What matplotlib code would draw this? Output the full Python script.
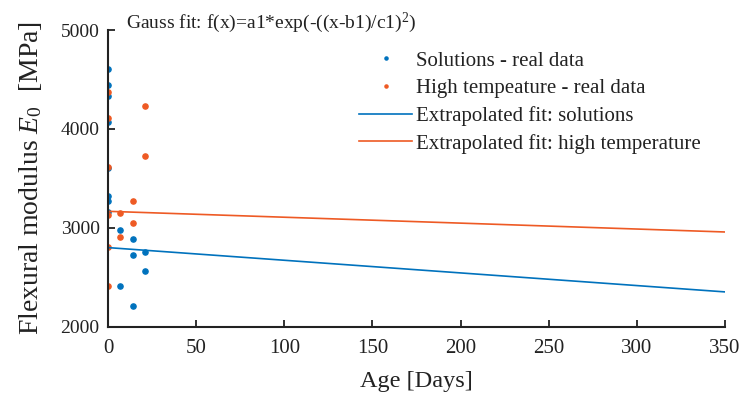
import matplotlib
matplotlib.use("Agg")
import matplotlib.pyplot as plt

plt.rcParams["font.family"] = "Liberation Serif"
plt.rcParams["mathtext.fontset"] = "custom"
plt.rcParams["mathtext.rm"] = "Liberation Serif"
plt.rcParams["mathtext.it"] = "Liberation Serif:italic"

# real data (age in days, modulus in MPa)
sol_days = [0, 0, 0, 0, 0, 0, 0, 0, 7, 7, 14, 14, 14, 21, 21]
sol_e0 = [4606, 4444, 4336, 4067, 3602, 3325, 3268, 3157, 2978, 2408, 2887, 2725, 2209, 2758, 2566]

ht_days = [0, 0, 0, 0, 0, 0, 7, 7, 14, 14, 21, 21]
ht_e0 = [4376, 4107, 3618, 3130, 2809, 2415, 3146, 2910, 3268, 3049, 4235, 3726]

# extrapolated fits
fit_days = [0, 350]
fit_sol = [2800, 2352]
fit_ht = [3167, 2958]

blue = "#0072BD"
orange = "#EE5A24"
ink = "#222222"

fig = plt.figure(figsize=(7.42, 3.96), dpi=100)
ax = fig.add_axes([0.1456, 0.175, 0.8314, 0.749])

ax.plot(sol_days, sol_e0, ".", color=blue, markersize=7.5, label="Solutions - real data")
ax.plot(ht_days, ht_e0, ".", color=orange, markersize=7.5, label="High tempeature - real data")
ax.plot(fit_days, fit_sol, "-", color=blue, linewidth=1.2, label="Extrapolated fit: solutions")
ax.plot(fit_days, fit_ht, "-", color=orange, linewidth=1.2, label="Extrapolated fit: high temperature")

ax.set_xlim(0, 350)
ax.set_ylim(2000, 5000)
ax.set_xticks(range(0, 351, 50))
ax.set_yticks([2000, 3000, 4000, 5000])
ax.spines["top"].set_visible(False)
ax.spines["right"].set_visible(False)
for s in ("left", "bottom"):
    ax.spines[s].set_linewidth(1.5)
    ax.spines[s].set_color(ink)
ax.tick_params(direction="in", length=5, width=1.3, colors=ink)
ax.tick_params(axis="x", labelsize=15, pad=9)
ax.tick_params(axis="y", labelsize=14, pad=6)

ax.set_xlabel("Age [Days]", fontsize=17.5, color=ink)
ax.xaxis.set_label_coords(0.5, -0.15)
ax.set_ylabel(r"Flexural modulus $\mathit{E_0}$  [MPa]", fontsize=20, color=ink)
ax.yaxis.set_label_coords(-0.103, 0.5)

fig.text(126 / 742, 1 - 28 / 396, r"Gauss fit: f(x)=a1*exp(-((x-b1)/c1)$^2$)",
         fontsize=14, color=ink, va="baseline")

leg = ax.legend(loc="upper left", bbox_to_anchor=(359 / 742, 1 - 51 / 396),
                bbox_transform=fig.transFigure, frameon=False,
                fontsize=15, markerscale=0.6, handlelength=2.55, handletextpad=0.2,
                labelspacing=0.38, borderpad=0, borderaxespad=0)
for t in leg.get_texts():
    t.set_color(ink)

fig.savefig("out.png", dpi=100)
